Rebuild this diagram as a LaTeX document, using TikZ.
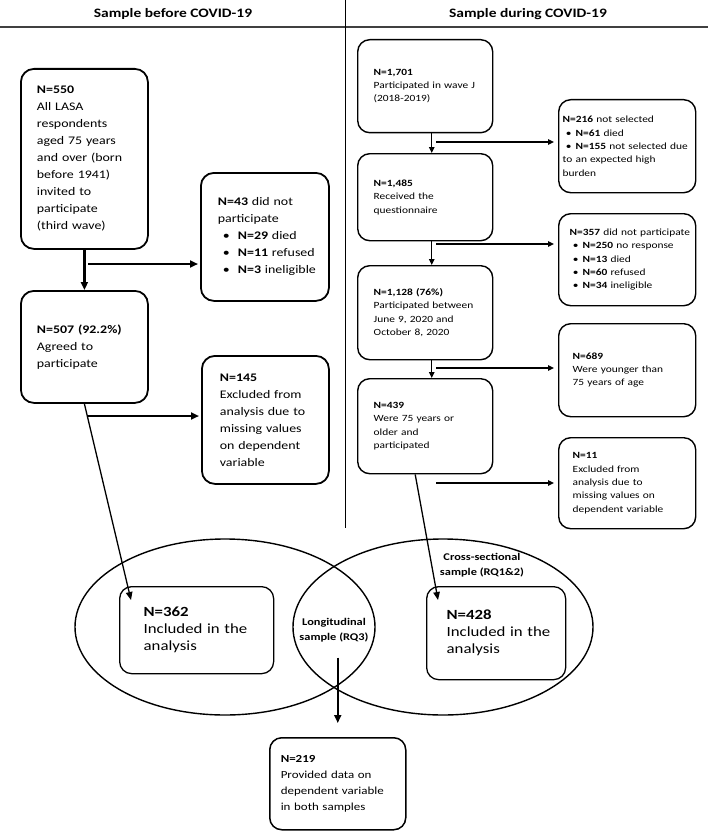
\documentclass[tikz,border=0pt]{standalone}
\usepackage{fontspec}
\setmainfont{Carlito}[FakeStretch=1.2]
\usetikzlibrary{arrows.meta,shapes.geometric}
\newlength{\bulind}
\newcommand{\hdrfont}{\fontsize{12.9}{15}\selectfont\bfseries}
\newcommand{\lfont}{\fontsize{11.6}{17}\selectfont}
\newcommand{\rfont}{\fontsize{9.5}{13.3}\selectfont}
\newcommand{\bigfont}{\fontsize{14}{17}\selectfont}
\newcommand{\botfont}{\fontsize{10.8}{16}\selectfont}
\newcommand{\vennfont}{\fontsize{10.3}{15.5}\selectfont\bfseries}
\newcommand{\bul}[1]{\par\hangindent=\bulind\hangafter=1\noindent\makebox[\bulind][l]{\hspace{0.25\bulind}\textbullet}#1}
\tikzset{
  pad/.style={execute at begin node={\leftskip=#1\relax}},
  flowbox/.style={draw, anchor=north west, inner sep=0pt, align=left},
  lbox/.style={flowbox, line width=1.8pt, rounded corners=13pt, font=\lfont,
    execute at begin node={\setlength{\bulind}{20pt}}},
  rbox/.style={flowbox, line width=1.4pt, rounded corners=12pt, font=\rfont,
    execute at begin node={\setlength{\bulind}{13pt}}},
  bigbox/.style={flowbox, line width=1.3pt, rounded corners=12pt, font=\bigfont},
  venn/.style={draw, ellipse, line width=1.4pt, inner sep=0pt, minimum width=300pt, minimum height=176pt},
  larrow/.style={line width=2pt, -{Triangle[length=8pt,width=7pt]}},
  rarrow/.style={line width=1.3pt, -{Triangle[length=6pt,width=5.5pt]}},
  diag/.style={line width=1.3pt, -{Triangle[length=8pt,width=6.5pt]}}
}
\begin{document}
\begin{tikzpicture}[x=1pt,y=-1pt]
\useasboundingbox (0,0) rectangle (708,832);
% headings
\node[font=\hdrfont] (hdrpre) at (173,14) {Sample before COVID-19};
\node[font=\hdrfont] (hdrdur) at (528,14) {Sample during COVID-19};
\draw[black!75, line width=2pt] (0,27) -- (708,27);
\draw[line width=0.8pt] (345,0) -- (345,528);
% before COVID-19
\node[lbox, pad=16pt, text width=127pt, minimum height=180pt] (invited) at (20,68)
  {\textbf{N=550}\\All LASA\\respondents\\aged 75 years\\and over (born\\before 1941)\\invited to\\participate\\(third wave)};
\node[lbox, pad=17pt, text width=128pt, minimum height=128pt] (nonpart) at (200,172)
  {\textbf{N=43} did not\\participate\bul{\textbf{N=29} died}\bul{\textbf{N=11} refused}\bul{\textbf{N=3} ineligible}};
\node[lbox, pad=16pt, text width=127pt, minimum height=112pt] (agreed) at (20,290)
  {\textbf{N=507 (92.2\%)}\\Agreed to\\participate};
\node[lbox, pad=18pt, text width=127pt, minimum height=128pt] (exclL) at (201,355)
  {\textbf{N=145}\\Excluded from\\analysis due to\\missing values\\on dependent\\variable};
\draw[larrow, line width=2.5pt] (invited) -- (agreed);
\coordinate (splitA) at (88,264);
\coordinate (splitC) at (88,416);
\draw[larrow] (splitA) -- ([xshift=-2pt]splitA -| nonpart.west);
\draw[larrow] (splitC) -- ([xshift=-2pt]splitC -| exclL.west);
% during COVID-19
\node[rbox, pad=16pt, text width=135pt, minimum height=93pt] (waveJ) at (357,39)
  {\textbf{N=1,701}\\Participated in wave J\\(2018-2019)};
\node[rbox, pad=4pt, text width=137pt, minimum height=93pt] (notsel) at (558,99)
  {\textbf{N=216} not selected\bul{\textbf{N=61} died}\bul{\textbf{N=155} not selected due\\to an expected high\\burden}};
\node[rbox, pad=16pt, text width=135pt, minimum height=87pt] (recvd) at (357,153)
  {\textbf{N=1,485}\\Received the\\questionnaire};
\node[rbox, pad=11pt, text width=137pt, minimum height=92pt] (nonresp) at (558,213)
  {\textbf{N=357} did not participate\bul{\textbf{N=250} no response}\bul{\textbf{N=13} died}\bul{\textbf{N=60} refused}\bul{\textbf{N=34} ineligible}};
\node[rbox, pad=16pt, text width=135pt, minimum height=94pt] (partic) at (357,265)
  {\textbf{N=1,128 (76\%)}\\Participated between\\June 9, 2020 and\\October 8, 2020};
\node[rbox, pad=14pt, text width=137pt, minimum height=93pt] (young) at (558,323)
  {\textbf{N=689}\\Were younger than\\75 years of age};
\node[rbox, pad=16pt, text width=135pt, minimum height=95pt] (older) at (357,378)
  {\textbf{N=439}\\Were 75 years or\\older and\\participated};
\node[rbox, pad=14pt, text width=137pt, minimum height=91pt] (exclR) at (558,437)
  {\textbf{N=11}\\Excluded from\\analysis due to\\missing values on\\dependent variable};
\foreach \a/\b in {waveJ/recvd, recvd/partic, partic/older}
  \draw[rarrow] ([xshift=6.5pt]\a.south) -- ([xshift=6.5pt]\b.north);
\foreach \s/\y/\t in {E/142/notsel, G/244/nonresp, I/368/young, K/483/exclR}{
  \coordinate (split\s) at (436,\y);
  \draw[rarrow] (split\s) -- ([xshift=-4pt]split\s -| \t.west);
}
% analysed samples
\node[venn] (vennL) at (225,627) {};
\node[venn] (vennR) at (443,627) {};
\node[font=\vennfont, align=center] (longit) at (334,630) {Longitudinal\\sample (RQ3)};
\node[font=\vennfont, align=center] (cross) at (482,565) {Cross-sectional\\sample (RQ1\&2)};
\node[bigbox, pad=24pt, text width=154pt, minimum height=87pt] (inclL) at (119,586)
  {\textbf{N=362}\\Included in the\\analysis};
\node[bigbox, pad=20pt, text width=139pt, minimum height=93pt] (inclR) at (426,586)
  {\textbf{N=428}\\Included in the\\analysis};
\node[flowbox, line width=1.5pt, rounded corners=12pt, font=\botfont, pad=11pt, text width=136pt, minimum height=92pt] (both) at (269,737)
  {\textbf{N=219}\\Provided data on\\dependent variable\\in both samples};
\draw[diag] (agreed.south) -- ([xshift=12pt,yshift=-14pt]inclL.north west);
\draw[diag] ([xshift=-10pt]older.south) -- ([xshift=12pt,yshift=-14pt]inclR.north west);
\draw[larrow, shorten <=12pt, shorten >=14pt] (longit.south -| both.north) -- (both.north);
\end{tikzpicture}
\end{document}
